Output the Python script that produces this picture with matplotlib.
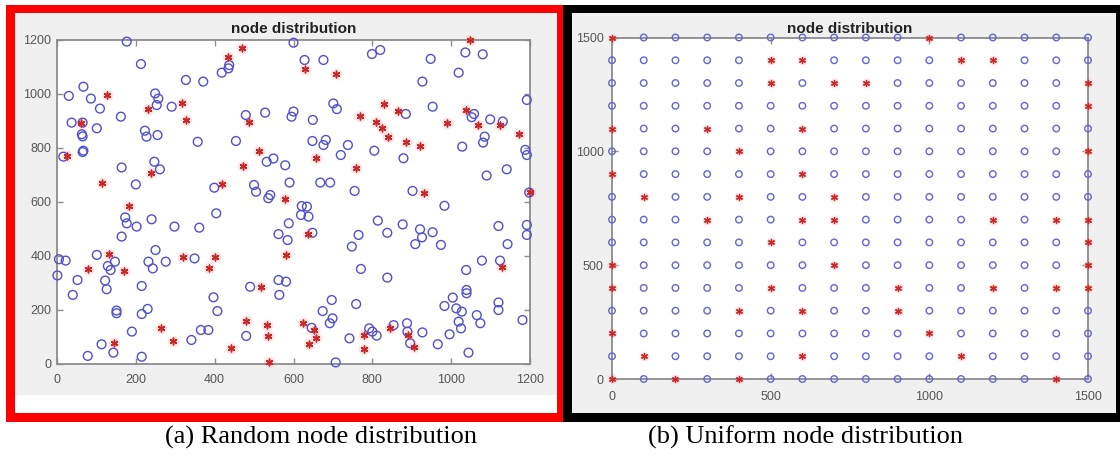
import matplotlib
matplotlib.use('Agg')
import matplotlib.pyplot as plt
from matplotlib.patches import Rectangle

# ---------------- data ----------------
# (a) random deployment (1200 x 1200): ordinary sensor nodes (blue circles)
random_nodes = [
    (177,1194),(213,1111),(67,1027),(30,993),(86,983),(109,946),(162,916),(249,1002),(257,983),
    (253,959),(291,953),(327,1052),(371,1046),(418,1079),(437,1107),(435,1095),(37,894),(65,894),
    (63,851),(65,843),(101,873),(223,864),(227,842),(255,848),(67,790),(65,785),(16,768),(164,728),
    (247,749),(261,721),(200,665),(357,823),(454,826),(479,922),(528,931),(532,749),(549,761),
    (579,736),(590,672),(399,653),(500,663),(505,638),(536,614),(541,626),(404,558),
    (600,1190),(799,1148),(820,1163),(628,1126),(676,1126),(948,1130),(1036,1154),(1080,1147),
    (1019,1079),(927,1046),(1192,978),(701,965),(710,944),(600,935),(595,916),(649,904),(885,926),
    (953,953),(1058,926),(1052,914),(1099,906),(1131,898),(648,826),(676,811),(682,830),(738,811),
    (720,774),(805,790),(879,762),(1028,805),(1085,842),(1081,820),(1188,793),(1192,774),(1141,721),
    (1090,698),(668,672),(693,672),(755,641),(902,641),(983,586),(1198,635),(621,585),(634,583),
    (619,552),(638,546),
    (173,543),(177,521),(202,509),(240,536),(298,509),(361,505),(164,472),(101,404),(22,383),(5,388),
    (1,328),(52,311),(40,256),(122,309),(126,277),(129,363),(136,348),(147,379),(215,289),(232,379),
    (243,354),(250,422),(276,379),(349,391),(151,198),(151,188),(215,185),(230,204),(190,120),
    (113,73),(143,42),(78,30),(215,27),(341,89),(365,126),(384,126),(397,247),(407,196),(480,104),
    (490,286),(564,256),(562,311),(581,305),(562,481),(585,459),(588,521),
    (648,486),(748,435),(765,478),(814,531),(838,486),(877,517),(921,499),(926,469),(909,444),
    (953,488),(974,441),(1120,511),(1192,515),(1192,478),(1143,444),(771,352),(838,320),(1078,383),
    (1124,383),(1038,348),(1039,274),(1039,262),(697,237),(674,196),(699,169),(692,151),(759,222),
    (983,215),(1004,246),(1013,206),(1027,194),(1019,157),(1025,132),(1065,181),(1074,151),
    (1120,228),(1120,200),(1181,163),(742,95),(792,132),(800,120),(811,105),(854,144),(888,151),
    (889,120),(896,77),(927,117),(966,73),(996,110),(1044,42),(707,6),(646,134),
]
# (a) random deployment: cluster heads (red stars)
random_heads = [
    (470,1169),(433,1136),(128,996),(232,944),(316,965),(327,904),(61,894),(488,896),(513,790),
    (473,735),(238,706),(113,672),(418,667),(579,611),(183,585),(25,770),
    (1047,1200),(630,1091),(708,1074),(830,962),(769,919),(866,937),(810,895),(824,873),(839,840),
    (886,823),(921,807),(989,891),(1037,941),(1069,885),(1124,885),(1171,852),(657,762),(758,725),
    (930,635),(1200,638),
    (78,352),(131,407),(170,346),(319,398),(401,395),(386,357),(518,284),(264,132),(294,86),
    (145,77),(441,58),(479,159),(532,144),(535,105),(539,9),(581,404),
    (636,481),(1130,360),(625,153),(651,126),(657,98),(640,74),(778,107),(779,56),(844,132),
    (891,107),(906,64),
]

# (b) uniform deployment (1500 x 1500) grid coordinates
grid_coords = [0, 100, 200, 300, 400, 500, 600, 700, 800, 900, 1000, 1100, 1200, 1300, 1400, 1500]
# grid positions occupied by cluster heads (red stars)
uniform_heads = [
    (0,1500),(1000,1500),
    (500,1400),(600,1400),(1100,1400),(1200,1400),
    (500,1300),(700,1300),(800,1300),(1500,1300),
    (1500,1200),
    (0,1100),(300,1100),(600,1100),
    (400,1000),(1500,1000),
    (0,900),(600,900),
    (100,800),(400,800),(700,800),
    (300,700),(600,700),(700,700),(1200,700),(1400,700),(1500,700),
    (500,600),(1500,600),
    (0,500),(700,500),(1500,500),
    (0,400),(500,400),(900,400),(1200,400),(1400,400),(1500,400),
    (400,300),(600,300),(900,300),
    (0,200),(1000,200),
    (100,100),(600,100),(1100,100),
    (0,0),(200,0),(400,0),(1400,0),
]

random_ticks = [0, 200, 400, 600, 800, 1000, 1200]
uniform_ticks = [0, 500, 1000, 1500]
panel_title = 'node distribution'
captions = ['(a) Random node distribution', '(b) Uniform node distribution']

# ---------------- figure ----------------
W, H = 1120, 457
fig = plt.figure(figsize=(W / 100, H / 100), dpi=100)
fig.patch.set_facecolor('white')


def rect_px(x0, y0, x1, y1):
    return [x0 / W, 1 - y1 / H, (x1 - x0) / W, (y1 - y0) / H]


def add_box(x0, y0, x1, y1, color, z):
    l, b, w, h = rect_px(x0, y0, x1, y1)
    fig.add_artist(Rectangle((l, b), w, h, transform=fig.transFigure,
                             facecolor=color, edgecolor='none', zorder=z))


# frames
add_box(6, 5, 563, 422, '#ff0000', -5)
add_box(15, 13, 557, 413, 'white', -4)
add_box(15, 13, 557, 395, '#f0f0f0', -3)
add_box(563, 5, 1120, 422, '#000000', -5)
add_box(572, 13, 1116, 413, '#f0f0f0', -3)

axL = fig.add_axes(rect_px(57, 40, 530, 364))
axR = fig.add_axes(rect_px(612, 37.5, 1088, 379))

for ax in (axL, axR):
    ax.set_facecolor('white')
    for s in ax.spines.values():
        s.set_color('#8c8c8c')
        s.set_linewidth(1.3)
    ax.tick_params(direction='in', length=4, width=1, color='#8c8c8c',
                   labelcolor='#555555', labelsize=9, top=True, right=True)
    for lab in ax.get_xticklabels() + ax.get_yticklabels():
        lab.set_family('Liberation Sans')

# ---- left: random ----
cx = [p[0] for p in random_nodes]
cy = [p[1] for p in random_nodes]
hx = [p[0] for p in random_heads]
hy = [p[1] for p in random_heads]
axL.scatter(hx, hy, s=70, marker='o', color='#ffc4c4', alpha=0.45, linewidths=0, clip_on=False, zorder=2)
axL.scatter(cx, cy, s=40, marker='o', facecolors='none', edgecolors='#5050cc', linewidths=1.0,
            clip_on=False, zorder=3)
axL.scatter(hx, hy, s=22, marker=(6, 2, 0), color='#c82828', linewidths=1.1, clip_on=False, zorder=4)
axL.set_xlim(0, 1200)
axL.set_ylim(0, 1200)
axL.set_xticks(random_ticks)
axL.set_yticks(random_ticks)
axL.tick_params(axis='x', pad=7)
axL.tick_params(axis='y', pad=4)
axL.set_title(panel_title, fontsize=11, fontweight='bold', color='#222222',
              family='Liberation Sans', pad=5)

# ---- right: uniform ----
head_set = set(uniform_heads)
ux, uy = [], []
for gx in grid_coords:
    for gy in grid_coords:
        if (gx, gy) not in head_set:
            ux.append(gx)
            uy.append(gy)
rx = [p[0] for p in uniform_heads]
ry = [p[1] for p in uniform_heads]
axR.scatter(rx, ry, s=50, marker='o', color='#ffc4c4', alpha=0.45, linewidths=0, clip_on=False, zorder=2)
axR.scatter(ux, uy, s=22, marker='o', facecolors='none', edgecolors='#6464d4', linewidths=1.0,
            clip_on=False, zorder=3)
axR.scatter(rx, ry, s=18, marker=(6, 2, 0), color='#c82828', linewidths=1.0, clip_on=False, zorder=4)
axR.set_xlim(0, 1500)
axR.set_ylim(0, 1500)
axR.set_xticks(uniform_ticks)
axR.set_yticks(uniform_ticks)
axR.tick_params(axis='x', pad=9)
axR.tick_params(axis='y', pad=6)
axR.set_title(panel_title, fontsize=11, fontweight='bold', color='#222222',
              family='Liberation Sans', pad=3)

# captions
fig.text(321 / W, 1 - 437 / H, captions[0], ha='center', va='center',
         family='Liberation Serif', fontsize=19, color='black')
fig.text(805 / W, 1 - 437 / H, captions[1], ha='center', va='center',
         family='Liberation Serif', fontsize=19, color='black')

fig.savefig('out.png', dpi=100, facecolor='white')
